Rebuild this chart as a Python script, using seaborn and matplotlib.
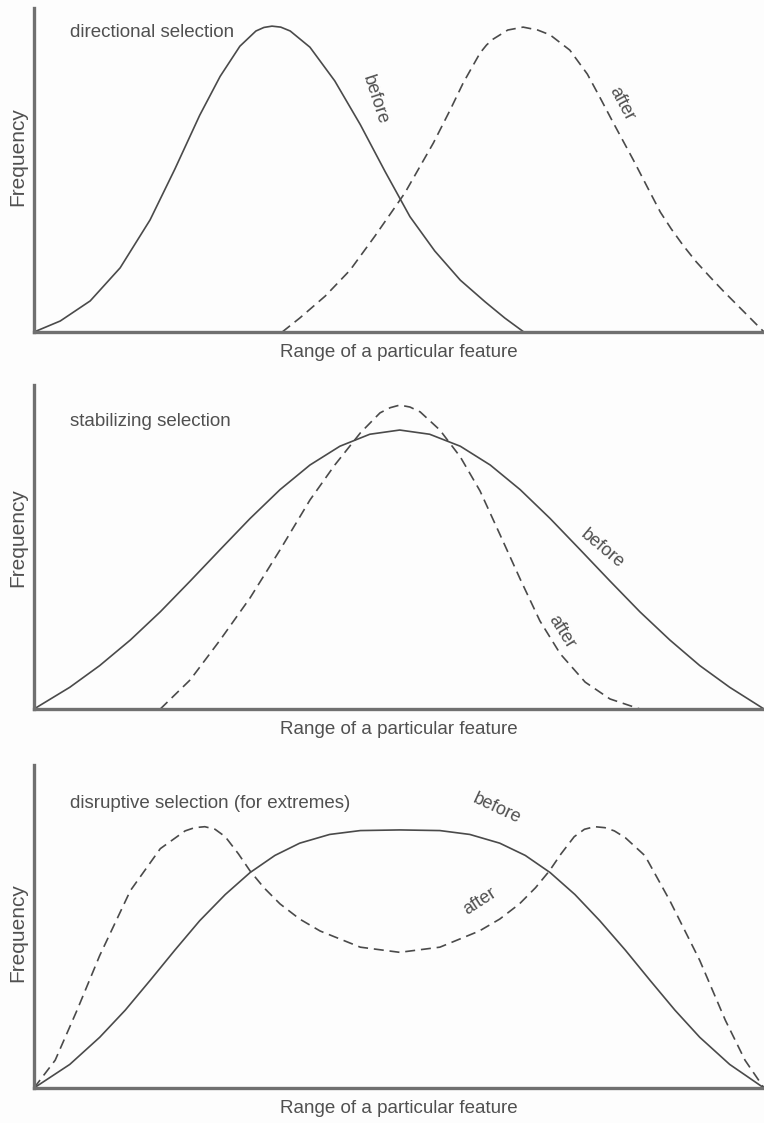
import matplotlib
matplotlib.use("Agg")
import matplotlib.pyplot as plt
import seaborn as sns

# values (x: 0-100 along the feature range, y: 0-100 frequency)
dir_before_x = [0.0, 3.6, 7.7, 11.8, 15.9, 19.3, 22.7, 25.5, 28.2, 30.4, 31.5, 32.6, 33.8, 35.1, 37.8, 41.2, 44.7, 48.1, 51.5, 54.9, 58.4, 61.8, 64.5, 67.1]
dir_before_y = [0.0, 3.4, 9.6, 19.8, 34.6, 50.3, 66.9, 78.9, 88.2, 92.9, 94.0, 94.4, 94.1, 92.9, 87.9, 77.5, 64.0, 49.5, 35.6, 25.0, 16.0, 9.3, 4.3, 0.0]
dir_after_x = [34.0, 36.4, 39.9, 43.3, 46.7, 50.8, 54.7, 57.0, 58.8, 61.1, 62.0, 62.9, 64.9, 67.0, 69.0, 70.7, 73.4, 75.8, 77.5, 79.3, 82.1, 84.0, 85.8, 87.3, 88.9, 90.7, 92.6, 94.4, 96.3, 100.0]
dir_after_y = [0.0, 4.3, 11.1, 19.1, 29.6, 42.9, 58.3, 68.5, 76.9, 86.1, 88.6, 90.4, 93.2, 94.1, 93.2, 91.7, 87.0, 79.6, 72.5, 64.8, 53.1, 44.8, 37.0, 31.8, 26.8, 21.7, 17.0, 12.7, 8.4, 0.0]

stab_before_x = [0.0, 4.9, 9.0, 13.2, 17.3, 21.4, 25.5, 29.6, 33.7, 37.8, 41.9, 46.0, 50.1, 54.2, 58.4, 62.5, 66.6, 70.7, 74.8, 78.9, 83.0, 87.1, 91.2, 95.3, 100.0]
stab_before_y = [0.0, 6.7, 13.4, 21.3, 30.0, 39.5, 49.2, 58.8, 67.7, 75.3, 81.1, 84.8, 86.1, 84.8, 81.1, 75.3, 67.7, 58.8, 49.2, 39.5, 30.0, 21.3, 13.4, 6.7, 0.0]
stab_after_x = [17.3, 21.4, 25.5, 29.6, 33.7, 37.8, 41.2, 44.7, 47.4, 48.8, 50.1, 51.5, 52.9, 55.6, 58.4, 61.1, 63.8, 66.6, 69.3, 72.1, 75.5, 78.9, 83.0]
stab_after_y = [0.0, 9.0, 21.3, 34.3, 49.1, 64.5, 75.3, 85.2, 91.4, 93.0, 93.8, 93.2, 91.7, 86.1, 77.8, 67.3, 54.0, 40.1, 27.2, 17.0, 8.3, 3.1, 0.0]

disr_before_x = [0.0, 4.9, 9.0, 12.5, 15.9, 19.3, 22.7, 26.2, 29.6, 33.0, 36.4, 40.5, 44.7, 50.1, 55.6, 59.7, 63.8, 67.3, 70.7, 74.1, 77.5, 81.0, 84.4, 87.8, 91.2, 95.3, 100.0]
disr_before_y = [0.0, 7.3, 15.7, 24.1, 33.3, 42.7, 51.8, 59.9, 66.7, 72.0, 75.8, 78.5, 79.7, 79.9, 79.7, 78.5, 75.8, 72.0, 66.7, 59.9, 51.8, 42.7, 33.3, 24.1, 15.7, 7.3, 0.0]
disr_after_x = [0.0, 2.9, 5.9, 9.0, 13.2, 17.3, 20.7, 22.0, 23.4, 24.8, 26.2, 28.0, 29.6, 31.5, 33.7, 36.4, 39.2, 44.7, 50.1, 55.6, 61.0, 63.8, 66.5, 68.7, 70.6, 72.2, 74.0, 75.4, 76.8, 78.2, 79.5, 81.0, 83.7, 87.1, 91.2, 94.7, 97.4, 100.0]
disr_after_y = [0.0, 8.6, 24.1, 41.0, 61.1, 74.1, 79.6, 80.6, 80.9, 80.1, 77.8, 72.5, 67.2, 62.0, 57.0, 52.3, 48.6, 43.6, 42.0, 43.6, 48.6, 52.3, 57.0, 62.0, 67.2, 72.5, 77.8, 80.1, 80.9, 80.6, 79.6, 77.5, 71.9, 58.0, 39.5, 21.0, 8.6, 0.0]

titles = ["directional selection", "stabilizing selection", "disruptive selection (for extremes)"]
xlabel = "Range of a particular feature"
ylabel = "Frequency"

sns.set_theme(style="white")
plt.rcParams["font.family"] = ["Liberation Sans", "DejaVu Sans"]

line_col = "#4a4a4a"
axis_col = "#707070"
text_col = "#505050"
fs = 13.5

fig = plt.figure(figsize=(7.64, 11.23), dpi=100)
fig.patch.set_facecolor("#fdfdfd")

# axes boxes in pixels: left, bottom spine y, top y
W, H = 764, 1123
boxes = [(34, 332, 8), (34, 709, 385), (34, 1088, 765)]
axes = []
for left, bot, top in boxes:
    ax = fig.add_axes([left / W, 1 - bot / H, 1 - left / W, (bot - top) / H])
    axes.append(ax)

curves = [
    (dir_before_x, dir_before_y, dir_after_x, dir_after_y),
    (stab_before_x, stab_before_y, stab_after_x, stab_after_y),
    (disr_before_x, disr_before_y, disr_after_x, disr_after_y),
]

# label positions (data units) and rotations
before_lbl = [(46.7, 71.6, -72), (77.8, 49.5, -40), (63.4, 86.4, -25)]
after_lbl = [(80.5, 70.4, -62), (72.3, 23.8, -58), (61.1, 57.7, 33)]
title_y = [0.923, 0.886, 0.88]
ylabel_y = [0.54, 0.53, 0.48]

for i, ax in enumerate(axes):
    bx, by, axx, ay = curves[i]
    sns.lineplot(x=bx, y=by, ax=ax, color=line_col, linewidth=1.2, sort=False)
    sns.lineplot(x=axx, y=ay, ax=ax, color=line_col, linewidth=1.2, sort=False,
                 linestyle=(0, (6, 3.5)))
    ax.set_xlim(0, 100)
    ax.set_ylim(0, 100)
    ax.set_facecolor("#fdfdfd")
    ax.set_xticks([])
    ax.set_yticks([])
    for s in ["top", "right"]:
        ax.spines[s].set_visible(False)
    for s in ["left", "bottom"]:
        ax.spines[s].set_color(axis_col)
        ax.spines[s].set_linewidth(2.4)
    ax.set_xlabel(xlabel, fontsize=fs, color=text_col)
    ax.set_ylabel(ylabel, fontsize=15, color=text_col)
    ax.xaxis.set_label_coords(0.5, -12 / 324, transform=ax.transAxes)
    ax.yaxis.set_label_coords(-7 / 730, ylabel_y[i], transform=ax.transAxes)
    ax.text(0.049, title_y[i], titles[i], transform=ax.transAxes, fontsize=fs,
            color=text_col, ha="left", va="center")
    x, y, r = before_lbl[i]
    ax.text(x, y, "before", fontsize=13, color=text_col, rotation=r,
            ha="center", va="center", rotation_mode="anchor")
    x, y, r = after_lbl[i]
    ax.text(x, y, "after", fontsize=13, color=text_col, rotation=r,
            ha="center", va="center", rotation_mode="anchor")

fig.savefig("out.png", dpi=100, facecolor=fig.get_facecolor())
